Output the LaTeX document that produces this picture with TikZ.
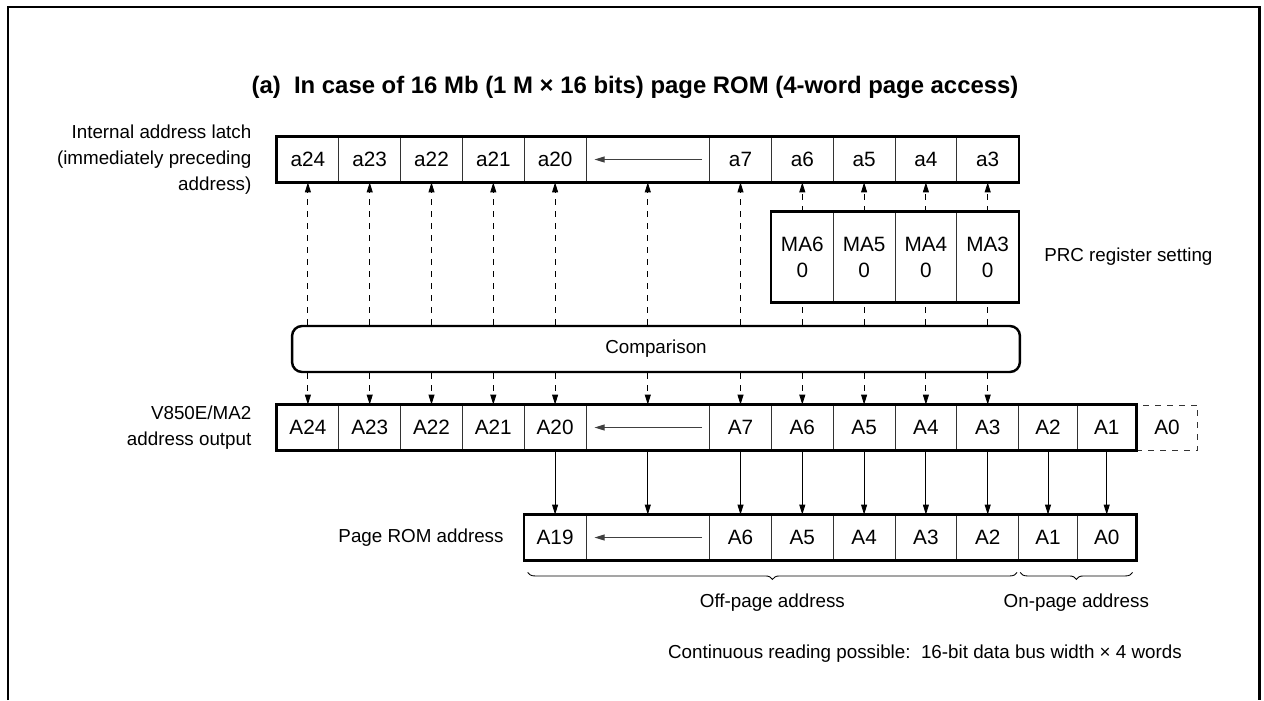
\documentclass[tikz,border=0pt]{standalone}
\usepackage{fontspec}
\setmainfont{Liberation Sans}
\usetikzlibrary{arrows.meta,positioning,decorations.pathreplacing}
\tikzset{
  >={Triangle[length=2mm,width=1.2mm]},
  txt/.style={font=\fontsize{10.7}{14.8}\selectfont},
  cell/.style={draw=black!80,line width=0.5pt,minimum width=1.236cm,
    minimum height=0.9cm,inner sep=0pt,font=\fontsize{11.8}{14.8}\selectfont},
  gapcell/.style={cell,minimum width=2.472cm},
  narrow/.style={cell,minimum width=1.174cm},
  regcell/.style={cell,minimum height=1.8cm,align=center},
  rowline/.style={line width=1.4pt},
  cmpbox/.style={draw,line width=1.4pt,rounded corners=0.2cm,minimum width=14.56cm,
    minimum height=0.92cm,txt},
  dline/.style={dash pattern=on 1.2mm off 1.2mm,line width=0.5pt},
  dar/.style={->,dline},
  sar/.style={->,line width=0.5pt},
  brc/.style={decorate,decoration={brace,mirror,amplitude=0.14cm},line width=0.5pt},
}
\begin{document}
\begin{tikzpicture}[x=0.02cm,y=-0.02cm]
  \useasboundingbox (0,0) rectangle (1264,700);
  % frame and title
  \draw[line width=1.7pt] (8,700) -- (8,7) -- (1259,7) -- (1259,700);
  \node[font=\fontsize{13.6}{16}\selectfont\bfseries] (title) at (635,87)
    {(a)\ \ In case of 16 Mb (1 M × 16 bits) page ROM (4-word page access)};
  % internal address latch
  \foreach \n/\i in {24/0,23/1,22/2,21/3,20/4,7/7,6/8,5/9,4/10,3/11}
    \node[cell] (l\n) at ({277+61.8*(\i+0.5)},159.5) {a\n};
  \node[gapcell] (lgap) at (647.8,159.5) {};
  \draw[rowline] (l24.north west) rectangle (l3.south east);
  \node[txt,align=right,left=0.38cm of l24] (latch)
    {Internal address latch\\(immediately preceding\\address)};
  % PRC register
  \foreach \n/\i in {6/8,5/9,4/10,3/11}
    \node[regcell] (m\n) at ({277+61.8*(\i+0.5)},257) {MA\n\\0};
  \draw[rowline] (m6.north west) rectangle (m3.south east);
  \node[txt,right=0.38cm of m3] (prc) {PRC register setting};
  % comparison
  \node[cmpbox] (cmp) at (656,349) {Comparison};
  % address output
  \foreach \n/\i in {24/0,23/1,22/2,21/3,20/4,7/7,6/8,5/9,4/10,3/11}
    \node[cell] (o\n) at ({277+61.8*(\i+0.5)},427.5) {A\n};
  \node[gapcell] (ogap) at (647.8,427.5) {};
  \node[narrow] (o2) at (1048,427.5) {A2};
  \node[narrow] (o1) at (1106.7,427.5) {A1};
  \node[cell,dline] (o0) at (1167,427.5) {A0};
  \draw[rowline] (o24.north west) rectangle (o1.south east);
  \node[txt,align=right,left=0.38cm of o24] (outlbl) {V850E/MA2\\address output};
  % page ROM address
  \node[cell] (p19) at (555.1,537.5) {A19};
  \node[gapcell] (pgap) at (647.8,537.5) {};
  \foreach \n/\i in {6/7,5/8,4/9,3/10,2/11}
    \node[cell] (p\n) at ({277+61.8*(\i+0.5)},537.5) {A\n};
  \node[narrow] (p1) at (1048,537.5) {A1};
  \node[narrow] (p0) at (1106.7,537.5) {A0};
  \draw[rowline] (p19.north west) rectangle (p0.south east);
  \node[txt,left=0.28cm of p19] (romlbl) {Page ROM address};
  % arrows inside the gaps
  \foreach \r in {l,o,p}
    \draw[sar,black!75] ([xshift=-0.16cm]\r gap.east) -- ([xshift=0.18cm]\r gap.west);
  % connectors
  \foreach \n in {24,23,22,21,20,gap,7}
    \draw[dar] (cmp.north -| l\n) -- (l\n.south);
  \foreach \n in {6,5,4,3}{
    \draw[dline] (cmp.north -| m\n) -- (m\n.south);
    \draw[dar] (m\n.north) -- (l\n.south);
  }
  \foreach \n in {24,23,22,21,20,gap,7,6,5,4,3}
    \draw[dar] (cmp.south -| o\n) -- (o\n.north);
  \foreach \a/\b in {20/19,gap/gap,7/6,6/5,5/4,4/3,3/2,2/1,1/0}
    \draw[sar] (o\a.south) -- (p\b.north);
  % braces
  \draw[brc] ([shift={(4,12)}]p19.south west) -- ([shift={(-2,12)}]p2.south east)
    node[txt,midway,below=0.3cm] (offp) {Off-page address};
  \draw[brc] ([shift={(2,12)}]p1.south west) -- ([shift={(-4,12)}]p0.south east)
    node[txt,midway,below=0.3cm] (onp) {On-page address};
  \node[txt,anchor=east] (cont) at (1188,654)
    {Continuous reading possible:\ \ 16-bit data bus width × 4 words};
\end{tikzpicture}
\end{document}
